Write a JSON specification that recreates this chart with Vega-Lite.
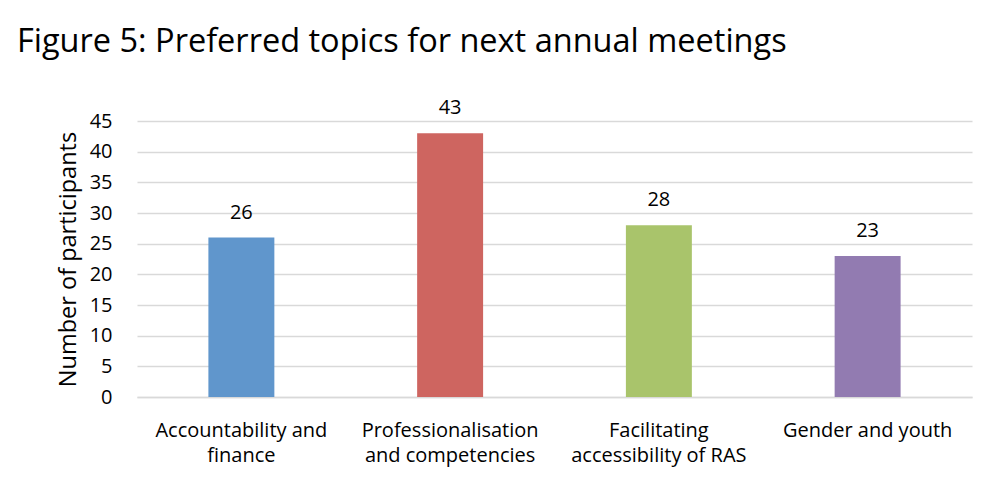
{
  "$schema": "https://vega.github.io/schema/vega-lite/v6.json",
  "autosize": {"type": "none"},
  "width": 835,
  "height": 276,
  "padding": {"left": 137, "top": 121, "right": 21, "bottom": 80},
  "background": "white",
  "title": {
    "text": "Figure 5: Preferred topics for next annual meetings",
    "anchor": "start",
    "frame": "group",
    "font": "Open Sans",
    "fontSize": 32.5,
    "fontWeight": "normal",
    "color": "#000000",
    "dx": -120,
    "offset": 40
  },
  "data": {
    "values": [
      {"topic": "Accountability and|finance", "participants": 26, "color": "#6096CC"},
      {"topic": "Professionalisation|and competencies", "participants": 43, "color": "#CE6560"},
      {"topic": "Facilitating|accessibility of RAS", "participants": 28, "color": "#A9C46B"},
      {"topic": "Gender and youth", "participants": 23, "color": "#927BB1"}
    ]
  },
  "encoding": {
    "x": {
      "field": "topic",
      "type": "nominal",
      "sort": null,
      "scale": {"paddingInner": 0.684, "paddingOuter": 0.342},
      "axis": {
        "title": null,
        "labelAngle": 0,
        "labelExpr": "split(datum.label, '|')",
        "labelFont": "Open Sans",
        "labelFontSize": 20,
        "labelColor": "#000000",
        "labelLineHeight": 25,
        "labelLimit": 400,
        "labelPadding": 39,
        "labelBaseline": "alphabetic",
        "ticks": false,
        "tickSize": 0,
        "domainColor": "#D9D9D9",
        "domainWidth": 1.5
      }
    },
    "y": {
      "field": "participants",
      "type": "quantitative",
      "scale": {"domain": [0, 45], "nice": false},
      "axis": {
        "title": "Number of participants",
        "titleFont": "Open Sans",
        "titleFontSize": 23.5,
        "titleFontWeight": "normal",
        "titleColor": "#000000",
        "titlePadding": 9,
        "values": [0, 5, 10, 15, 20, 25, 30, 35, 40, 45],
        "labelFont": "Open Sans",
        "labelFontSize": 20,
        "labelColor": "#000000",
        "labelPadding": 25,
        "ticks": false,
        "tickSize": 0,
        "domain": false,
        "grid": true,
        "gridColor": "#D9D9D9",
        "gridWidth": 1.5
      }
    }
  },
  "layer": [
    {
      "mark": {"type": "bar"},
      "encoding": {
        "color": {"field": "color", "type": "nominal", "scale": null}
      }
    },
    {
      "mark": {
        "type": "text",
        "font": "Open Sans",
        "fontSize": 20,
        "color": "#000000",
        "baseline": "alphabetic",
        "dy": -19
      },
      "encoding": {
        "text": {"field": "participants", "type": "quantitative"}
      }
    }
  ],
  "config": {
    "view": {"stroke": null}
  }
}
